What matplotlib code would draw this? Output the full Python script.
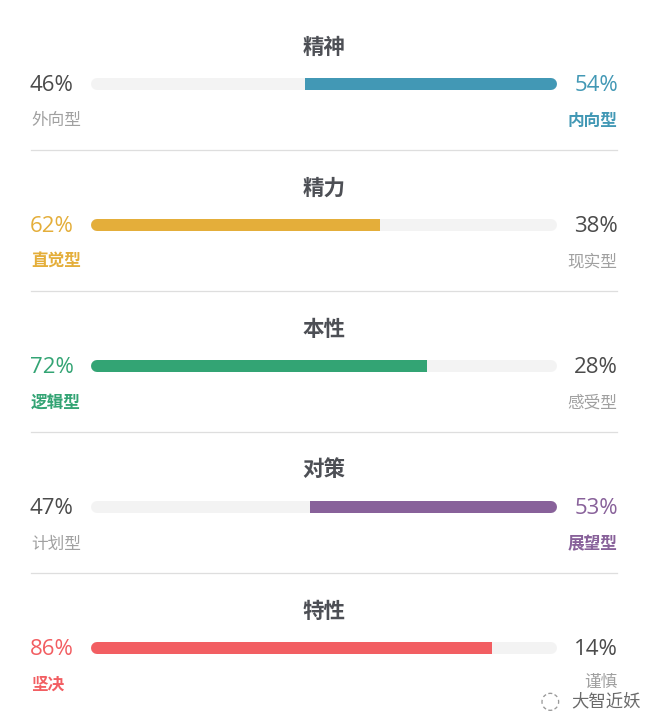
import matplotlib
matplotlib.use("Agg")
import matplotlib.pyplot as plt

# ---- data ----
titles = ["精神", "精力", "本性", "对策", "特性"]
left_labels = ["外向型", "直觉型", "逻辑型", "计划型", "坚决"]
right_labels = ["内向型", "现实型", "感受型", "展望型", "谨慎"]
left_pct = [46, 62, 72, 47, 86]
right_pct = [54, 38, 28, 53, 14]
colors = ["#4298b5", "#e4ae3a", "#33a474", "#88619a", "#f25e62"]

W, H = 654, 727
fig = plt.figure(figsize=(W / 100, H / 100), dpi=100)
ax = fig.add_axes([0, 0, 1, 1])
ax.set_xlim(0, W)
ax.set_ylim(H, 0)
ax.axis("off")

cjk = ["Noto Sans CJK SC", "DejaVu Sans"]
pctfont = ["Open Sans", "Noto Sans CJK SC"]
DARK = "#4b4b4b"
GRAY = "#a0a0a0"
TRACK = "#f3f3f3"

x0, x1 = 91, 557
bar_px = 12
lw = bar_px * 72 / 100
r = bar_px / 2
step = 141

for i, t in enumerate(titles):
    ty = 47 + i * step
    by = 84 + i * step
    ly = 121 + i * step
    c = colors[i]
    left_dom = left_pct[i] > right_pct[i]
    # title
    ax.text(324, ty, t, ha="center", va="center", fontsize=15.5,
            fontweight="bold", color="#4d4f55", family=cjk)
    # track
    ax.plot([x0 + r, x1 - r], [by, by], color=TRACK, lw=lw,
            solid_capstyle="round", zorder=1)
    split = x0 + (x1 - x0) * left_pct[i] / 100
    if left_dom:
        ax.plot([x0 + r, split - r], [by, by], color=c, lw=lw,
                solid_capstyle="round", zorder=2)
        ax.plot([split - r, split], [by, by], color=c, lw=lw,
                solid_capstyle="butt", zorder=2)
    else:
        ax.plot([split + r, x1 - r], [by, by], color=c, lw=lw,
                solid_capstyle="round", zorder=2)
        ax.plot([split, split + r], [by, by], color=c, lw=lw,
                solid_capstyle="butt", zorder=2)
    lc = c if left_dom else DARK
    rc = DARK if left_dom else c
    llc = c if left_dom else GRAY
    rlc = GRAY if left_dom else c
    ax.text(30, by + 1.5, f"{left_pct[i]}%", ha="left", va="center",
            fontsize=16, color=lc, family=pctfont)
    ax.text(618, by + 1.5, f"{right_pct[i]}%", ha="right", va="center",
            fontsize=16, color=rc, family=pctfont)
    ax.text(31, ly, left_labels[i], ha="left", va="center",
            fontsize=12, color=llc, family=cjk,
            fontweight="semibold" if left_dom else "normal")
    ax.text(617, ly if i < 4 else ly - 3, right_labels[i], ha="right", va="center",
            fontsize=12, color=rlc, family=cjk,
            fontweight="normal" if left_dom else "semibold")
    if i < len(titles) - 1:
        sy = 150 + i * step
        ax.plot([31, 617], [sy, sy], color="#dedede", lw=0.9, zorder=1)

# watermark
ax.text(641, 701, "大智近妖", ha="right", va="center", fontsize=12.5,
        color="#6a6a6a", family=cjk)
ax.text(550, 701, "◌", ha="center", va="center", fontsize=17,
        color="#9a9a9a", family=["DejaVu Sans"])

fig.savefig("out.png", dpi=100, facecolor="white")
